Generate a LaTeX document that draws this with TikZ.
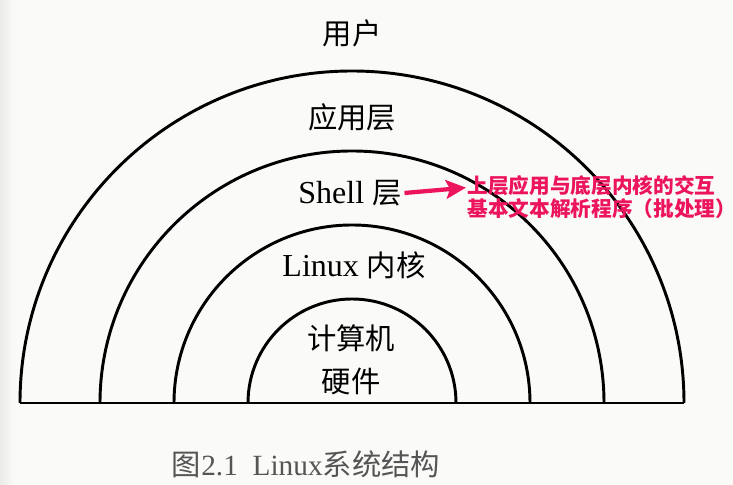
\documentclass[tikz,border=0pt]{standalone}
\usepackage{xcolor}
\usepackage{fontspec}
\usepackage{tikz}
\usetikzlibrary{arrows.meta,positioning}
\setmainfont{Liberation Serif}
\newfontfamily\cjk{Noto Sans CJK SC}
\definecolor{bgcol}{HTML}{FAFAF8}
\definecolor{notered}{HTML}{EC145C}
\definecolor{capgray}{HTML}{555555}

\begin{document}
\begin{tikzpicture}[
    x=0.75pt,y=0.75pt,
    layer/.style={font=\fontsize{22}{26}\selectfont,inner sep=2pt},
    latin/.style={font=\fontsize{24}{28}\selectfont,inner sep=2pt},
    note/.style={font=\cjk\bfseries\fontsize{15.5}{17.5}\selectfont,text=notered,align=left,inner sep=1pt},
    arcline/.style={line width=2.2pt},
    arrow/.style={-{Stealth[length=15pt,width=14pt,inset=3pt]},line width=3.2pt,notered}
]
    % background
    \fill[bgcol] (0,0) rectangle (733,485);
    \fill[left color=gray!16,right color=bgcol] (0,0) rectangle (14,485);
    \useasboundingbox (0,0) rectangle (733,485);

    % rings
    \coordinate (centre) at (352,82);
    \foreach \r in {332,252,178,104}
        \draw[arcline] (centre) ++(-\r,0) arc[start angle=180,end angle=0,radius=\r*0.75pt];
    \coordinate (left) at (20,82);
    \coordinate (right) at (684,82);
    \draw[arcline] (left) -- (right);

    % layer names
    \node[layer] (user) at (352,452) {\cjk 用户};
    \node[layer] (app) at (352,368) {\cjk 应用层};
    \node[latin] (shell) at (350,292) {Shell {\cjk\fontsize{22}{26}\selectfont 层}};
    \node[latin] (kernel) at (354,220) {Linux {\cjk\fontsize{22}{26}\selectfont 内核}};
    \node[layer] (comp) at (351,147) {\cjk 计算机};
    \node[layer] (hw) at (351,104) {\cjk 硬件};

    % note on the shell
    \node[note,anchor=west] (shellnote) at (466,288) {上层应用与底层内核的交互\\基本文本解析程序（批处理）};
    \draw[arrow] (shell.east) -- ([yshift=7pt]shellnote.west);

    % caption
    \node[font=\fontsize{22}{26}\selectfont,text=capgray] (caption) at (306,21) {{\cjk 图}2.1\ \ Linux{\cjk 系统结构}};
\end{tikzpicture}
\end{document}
